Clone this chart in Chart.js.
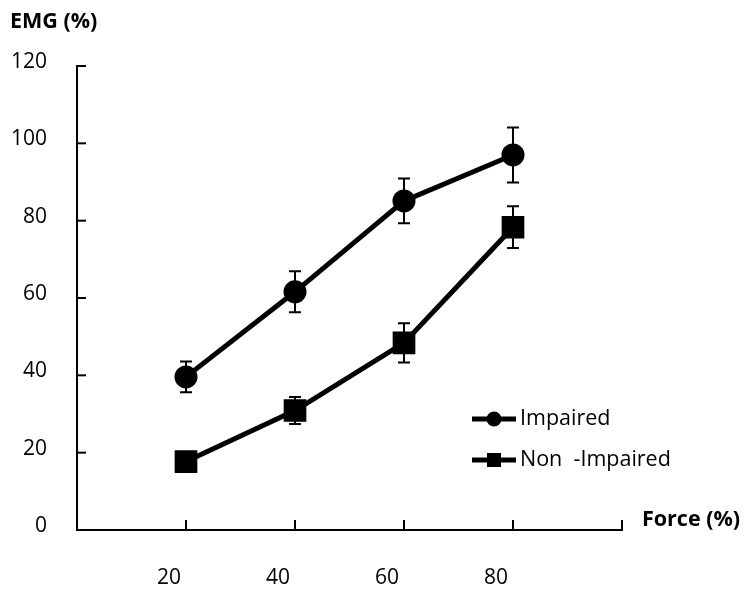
<!DOCTYPE html>
<html>
<head>
<meta charset="utf-8">
<script src="https://cdn.jsdelivr.net/npm/chart.js@4"></script>
<style>
  body { margin: 0; background: #fff; }
  #wrap { width: 751px; height: 597px; position: relative; }
</style>
</head>
<body>
<div id="wrap"><canvas id="myChart"></canvas></div>
<script>
    // force levels (%) and mean EMG (%) with error bars
    const forceLevels = [20, 40, 60, 80];
    const impaired = [39.6, 61.6, 85.1, 97.0];
    const impairedErr = [4.0, 5.3, 5.8, 7.1];
    const nonImpaired = [17.7, 30.9, 48.4, 78.3];
    const nonImpairedErr = [1.5, 3.5, 5.1, 5.4];
    const xTickLabels = ["20", "40", "60", "80"];
    const yTickLabels = ["0", "20", "40", "60", "80", "100", "120"];

    const FONT = "'Open Sans', sans-serif";

    const toPoints = (vals) => vals.map((v, i) => ({ x: forceLevels[i], y: v }));

    const extras = {
      id: "extras",
      afterDatasetsDraw(chart) {
        const ctx = chart.ctx;
        const xs = chart.scales.x, ys = chart.scales.y;
        const errs = [impairedErr, nonImpairedErr];
        ctx.save();
        ctx.strokeStyle = "#000";
        ctx.lineWidth = 2;
        chart.data.datasets.forEach((ds, di) => {
          ds.data.forEach((p, i) => {
            const px = xs.getPixelForValue(p.x);
            const top = ys.getPixelForValue(p.y + errs[di][i]);
            const bot = ys.getPixelForValue(p.y - errs[di][i]);
            ctx.beginPath();
            ctx.moveTo(px, top); ctx.lineTo(px, bot);
            ctx.moveTo(px - 6, top); ctx.lineTo(px + 6, top);
            ctx.moveTo(px - 6, bot); ctx.lineTo(px + 6, bot);
            ctx.stroke();
          });
        });
        ctx.restore();
      },
      afterDraw(chart) {
        const ctx = chart.ctx;
        const xs = chart.scales.x, ys = chart.scales.y;
        const area = chart.chartArea;
        ctx.save();
        ctx.strokeStyle = "#000";
        ctx.lineWidth = 2;
        // inward tick marks
        xs.ticks.forEach(t => {
          if (t.value === 0) return;
          const px = xs.getPixelForValue(t.value);
          ctx.beginPath();
          ctx.moveTo(px, area.bottom); ctx.lineTo(px, area.bottom - 10);
          ctx.stroke();
        });
        ys.ticks.forEach(t => {
          if (t.value === 0) return;
          const py = ys.getPixelForValue(t.value);
          ctx.beginPath();
          ctx.moveTo(area.left, py); ctx.lineTo(area.left + 9, py);
          ctx.stroke();
        });

        // axis titles
        ctx.fillStyle = "#000";
        ctx.font = "bold 21.5px " + FONT;
        ctx.textBaseline = "middle";
        ctx.textAlign = "left";
        ctx.fillText("EMG (%)", 10, 22);
        ctx.fillText("Force (%)", 642, 520);

        // legend
        const items = [
          { label: "Impaired", style: "circle", y: 419 },
          { label: "Non  -Impaired", style: "rect", y: 460 }
        ];
        ctx.font = "21.5px " + FONT;
        items.forEach(it => {
          ctx.lineWidth = 5;
          ctx.beginPath();
          ctx.moveTo(472, it.y); ctx.lineTo(516, it.y);
          ctx.stroke();
          ctx.beginPath();
          if (it.style === "circle") {
            ctx.arc(494, it.y, 7.5, 0, Math.PI * 2);
          } else {
            ctx.rect(487, it.y - 7, 14, 14);
          }
          ctx.fill();
          ctx.fillText(it.label, 520, it.y);
        });
        ctx.restore();
      }
    };

    new Chart("myChart", {
      type: "line",
      data: {
        datasets: [{
          label: "Impaired",
          data: toPoints(impaired),
          borderColor: "#000",
          backgroundColor: "#000",
          borderWidth: 5,
          pointStyle: "circle",
          pointRadius: 9,
          pointBackgroundColor: "#000",
          fill: false
        }, {
          label: "Non -Impaired",
          data: toPoints(nonImpaired),
          borderColor: "#000",
          backgroundColor: "#000",
          borderWidth: 5,
          pointStyle: "rect",
          pointRadius: 12.5,
          pointBackgroundColor: "#000",
          fill: false
        }]
      },
      options: {
        responsive: true,
        maintainAspectRatio: false,
        animation: false,
        layout: { padding: { top: 66, right: 129, left: 0, bottom: 0 } },
        plugins: {
          legend: { display: false },
          tooltip: { enabled: false }
        },
        scales: {
          x: {
            type: "linear",
            min: 0,
            max: 100,
            grid: { display: false, drawTicks: false },
            border: { display: true, color: "#000", width: 2 },
            ticks: {
              stepSize: 20,
              padding: 35,
              labelOffset: -17,
              color: "#000",
              font: { family: FONT, size: 21 },
              callback: (v) => xTickLabels[forceLevels.indexOf(v)] || ""
            },
            afterFit: (s) => { s.height = 67; }
          },
          y: {
            min: 0,
            max: 120,
            grid: { display: false, drawTicks: false },
            border: { display: true, color: "#000", width: 2 },
            ticks: {
              stepSize: 20,
              padding: 30,
              labelOffset: -4,
              color: "#000",
              font: { family: FONT, size: 21 },
              callback: (v) => yTickLabels[v / 20]
            },
            afterFit: (s) => { s.width = 77; }
          }
        }
      },
      plugins: [extras]
    });
</script>
</body>
</html>
